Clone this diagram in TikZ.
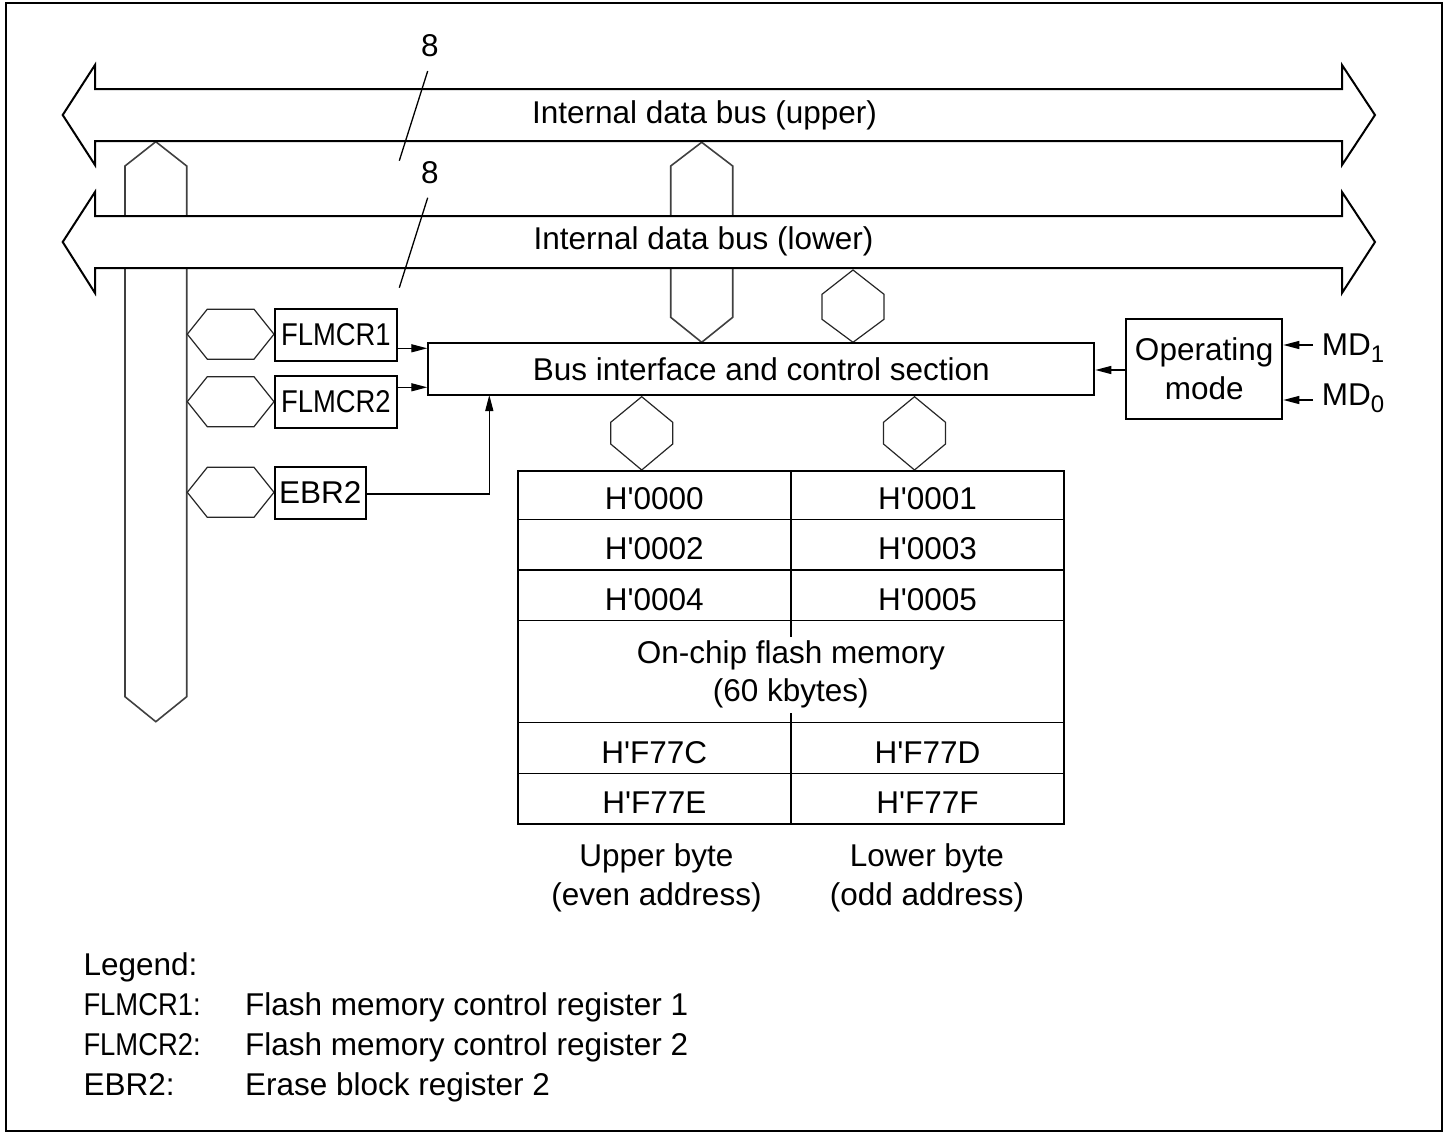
\documentclass[tikz,border=0pt]{standalone}
\usepackage{fontspec}
\usepackage{graphicx}
\newfontfamily\lib{Liberation Sans}
\usetikzlibrary{arrows.meta}
\newcommand\narrow[1]{\scalebox{0.87}[1]{#1}}
\begin{document}
\begin{tikzpicture}[x=1pt,y=-1pt,
  font=\lib\fontsize{31.5}{39}\selectfont,
  thick/.style={line width=2pt,line join=miter},
  thinl/.style={line width=1.3pt,line join=miter},
  busshape/.style={line width=2pt,fill=white,line join=miter},
  hexs/.style={line width=1.2pt,draw=black!85,line join=miter},
  vbus/.style={line width=1.6pt,draw=black!75,fill=white,line join=miter},
  box/.style={draw,line width=2pt,inner sep=0pt},
  arr/.style={line width=1.3pt,-{Triangle[length=16pt,width=8pt]}},
  txt/.style={inner sep=0pt,anchor=base}]
\useasboundingbox (0,0) rectangle (1451,1135);
\draw[line width=2pt] (5.7,3.3) rectangle (1442,1131);

% vertical buses
\draw[vbus] (125,166) -- (155.8,141.7) -- (186.7,166) -- (186.7,696.7) -- (155.8,721.7) -- (125,696.7) -- cycle;
\draw[vbus] (670.7,166) -- (701.7,142.3) -- (732.7,166) -- (732.7,317.3) -- (701.7,342.3) -- (670.7,317.3) -- cycle;

% horizontal buses
\draw[busshape] (95,89) -- (1342,89) -- (1342,65) -- (1375,115) -- (1342,165) -- (1342,141) -- (95,141) -- (95,165) -- (62.7,115) -- (95,65) -- cycle;
\draw[busshape] (95,216) -- (1342,216) -- (1342,192) -- (1375,242) -- (1342,293) -- (1342,268) -- (95,268) -- (95,293) -- (62.7,242) -- (95,192) -- cycle;
\node[txt] (ubus) at (704.5,123) {Internal data bus (upper)};
\node[txt] (lbus) at (703.5,249.3) {Internal data bus (lower)};

% width marks
\draw[thinl] (427.7,71) -- (399.3,160.7);
\draw[thinl] (427.7,197.7) -- (399.3,287.7);
\node[txt] (w1) at (430,56) {8};
\node[txt] (w2) at (430,183) {8};

% small hexagons (horizontal)
\draw[hexs] (187.3,334.2) -- (207.3,309.2) -- (254,309.2) -- (274,334.2) -- (254,359.2) -- (207.3,359.2) -- cycle;
\draw[hexs] (187.3,401.7) -- (207.3,376.7) -- (254,376.7) -- (274,401.7) -- (254,426.7) -- (207.3,426.7) -- cycle;
\draw[hexs] (187.3,492.3) -- (207.3,467.3) -- (254,467.3) -- (274,492.3) -- (254,517.3) -- (207.3,517.3) -- cycle;

% small hexagons (vertical)
\draw[hexs] (853,270) -- ++(31,24.3) -- ++(0,25) -- ++(-31,23) -- ++(-31,-23) -- ++(0,-25) -- cycle;
\draw[hexs] (641.7,396.7) -- ++(31,25.6) -- ++(0,21.7) -- ++(-31,26) -- ++(-31,-26) -- ++(0,-21.7) -- cycle;
\draw[hexs] (914.5,396.7) -- ++(31,25.6) -- ++(0,21.7) -- ++(-31,26) -- ++(-31,-26) -- ++(0,-21.7) -- cycle;

% registers
\node[box,minimum width=121.7pt,minimum height=51.7pt] (f1) at (335.85,334.85) {\narrow{FLMCR1}};
\node[box,minimum width=121.7pt,minimum height=51.7pt] (f2) at (335.85,401.85) {\narrow{FLMCR2}};
\node[box,minimum width=90.7pt,minimum height=52.3pt] (ebr) at (320.35,492.85) {EBR2};

% bus interface
\node[box,minimum width=666pt,minimum height=51.7pt] (bus) at (761.3,369.15) {Bus interface and control section};

% operating mode
\node[box,minimum width=156.3pt,minimum height=99.7pt,align=center] (op) at (1204.15,369.15) {Operating\\mode};

% arrows
\coordinate (a1) at (396.7,348.3);
\coordinate (a2) at (396.7,387.3);
\draw[arr] (a1) -- (a1 -| bus.west);
\draw[arr] (a2) -- (a2 -| bus.west);
\coordinate (e0) at (365.7,494);
\coordinate (e1) at (489.3,395);
\draw[arr] (e0) -| (e1);
\coordinate (o0) at (1126,370);
\draw[arr] (o0) -- (o0 -| bus.east);
\coordinate (m1) at (1313,345);
\coordinate (m0) at (1313,400);
\draw[arr] (m1) -- (m1 -| op.east);
\draw[arr] (m0) -- (m0 -| op.east);
\node[txt,anchor=base west] (md1) at (1321.7,355) {MD\raisebox{-7pt}{\fontsize{24}{24}\selectfont 1}};
\node[txt,anchor=base west] (md0) at (1321.7,405) {MD\raisebox{-7pt}{\fontsize{24}{24}\selectfont 0}};

% memory table
\draw[line width=1.8pt] (517.7,471) rectangle (1064,824.3);
\foreach \yy in {519.3,570,620.7,722.7,773.3} \draw[line width=1.5pt] (517.7,\yy) -- (1064,\yy);
\draw[line width=1.5pt] (791,471) -- (791,636.7);
\draw[line width=1.5pt] (791,713) -- (791,824.3);
\node[txt] (c00) at (654.3,509.8) {H'0000};
\node[txt] (c01) at (927.5,509.8) {H'0001};
\node[txt] (c02) at (654.3,559.8) {H'0002};
\node[txt] (c03) at (927.5,559.8) {H'0003};
\node[txt] (c04) at (654.3,610.5) {H'0004};
\node[txt] (c05) at (927.5,610.5) {H'0005};
\node[txt] (fm1) at (790.8,663.3) {On-chip flash memory};
\node[txt] (fm2) at (790.8,701.7) {(60 kbytes)};
\node[txt] (c7c) at (654.3,763) {H'F77C};
\node[txt] (c7d) at (927.5,763) {H'F77D};
\node[txt] (c7e) at (654.3,813.3) {H'F77E};
\node[txt] (c7f) at (927.5,813.3) {H'F77F};
\node[txt] (ub1) at (656.5,866.7) {Upper byte};
\node[txt] (ub2) at (656.5,905) {(even address)};
\node[txt] (lb1) at (927,866.7) {Lower byte};
\node[txt] (lb2) at (927,905) {(odd address)};

% legend
\node[txt,anchor=base west] (lg) at (83.3,975) {Legend:};
\node[txt,anchor=base west] (lg1) at (83.3,1015) {\narrow{FLMCR1:}};
\node[txt,anchor=base west] (lg2) at (83.3,1055) {\narrow{FLMCR2:}};
\node[txt,anchor=base west] (lg3) at (83.3,1095) {EBR2:};
\node[txt,anchor=base west] (ld1) at (245,1015) {Flash memory control register 1};
\node[txt,anchor=base west] (ld2) at (245,1055) {Flash memory control register 2};
\node[txt,anchor=base west] (ld3) at (245,1095) {Erase block register 2};
\end{tikzpicture}
\end{document}
